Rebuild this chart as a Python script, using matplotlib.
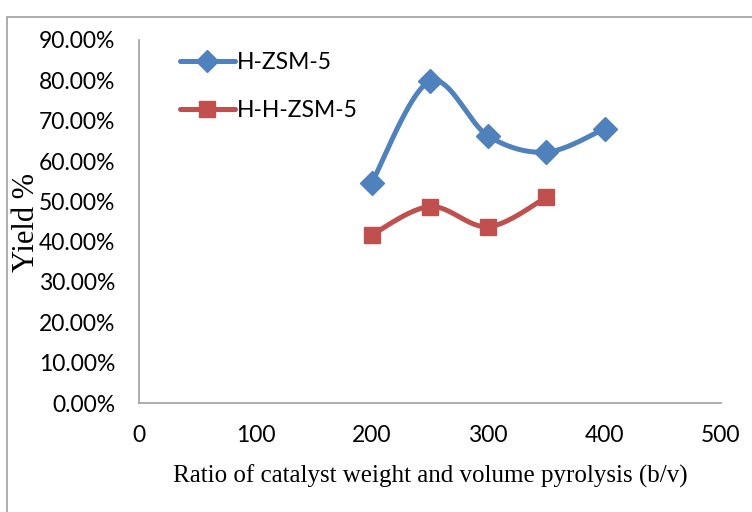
import numpy as np
import matplotlib
matplotlib.use("Agg")
import matplotlib.pyplot as plt
from matplotlib.patches import Rectangle
from matplotlib.ticker import FuncFormatter

# Data
x_hzsm = [200, 250, 300, 350, 400]
y_hzsm = [0.546, 0.798, 0.662, 0.622, 0.680]
x_hhzsm = [200, 250, 300, 350]
y_hhzsm = [0.417, 0.487, 0.437, 0.510]
labels = ["H-ZSM-5", "H-H-ZSM-5"]
colors = ["#4F81BD", "#C0504D"]
markers = ["D", "s"]
x_ticks = [0, 100, 200, 300, 400, 500]
y_ticks = [0.0, 0.1, 0.2, 0.3, 0.4, 0.5, 0.6, 0.7, 0.8, 0.9]


def smooth(xs, ys, n=40):
    # Catmull-Rom style smoothing (like Excel smoothed lines)
    xs = np.asarray(xs, float)
    ys = np.asarray(ys, float)
    px = np.concatenate([[xs[0]], xs, [xs[-1]]])
    py = np.concatenate([[ys[0]], ys, [ys[-1]]])
    ox, oy = [], []
    t = np.linspace(0, 1, n)
    for i in range(1, len(px) - 2):
        p0x, p1x, p2x, p3x = px[i - 1], px[i], px[i + 1], px[i + 2]
        p0y, p1y, p2y, p3y = py[i - 1], py[i], py[i + 1], py[i + 2]
        c1x = p1x + (p2x - p0x) / 6
        c1y = p1y + (p2y - p0y) / 6
        c2x = p2x - (p3x - p1x) / 6
        c2y = p2y - (p3y - p1y) / 6
        bx = (1 - t) ** 3 * p1x + 3 * (1 - t) ** 2 * t * c1x + 3 * (1 - t) * t ** 2 * c2x + t ** 3 * p2x
        by = (1 - t) ** 3 * p1y + 3 * (1 - t) ** 2 * t * c1y + 3 * (1 - t) * t ** 2 * c2y + t ** 3 * p2y
        ox.extend(bx)
        oy.extend(by)
    return np.array(ox), np.array(oy)


fig = plt.figure(figsize=(7.52, 5.12), dpi=100)
fig.patch.set_facecolor("white")
fig.add_artist(Rectangle((7 / 752, -0.1), 1.2, 1.1 - 17 / 512,
                         transform=fig.transFigure, fill=False,
                         edgecolor="#A0A0A0", linewidth=1.2))

ax = fig.add_axes([139 / 752, 109 / 512, 582 / 752, 363 / 512])
ax.set_xlim(0, 500)
ax.set_ylim(0, 0.9)

msize = {"D": 12.5, "s": 12}
for xs, ys, lab, c, m in zip([x_hzsm, x_hhzsm], [y_hzsm, y_hhzsm], labels, colors, markers):
    sx, sy = smooth(xs, ys)
    ax.plot(sx, sy, color=c, linewidth=3.6, solid_capstyle="round", zorder=2)
    ax.plot(xs, ys, linestyle="none", marker=m, color=c,
            markersize=msize[m], zorder=3)
    ax.plot([], [], color=c, linewidth=3.6, marker=m, solid_capstyle="round",
            markersize=msize[m] - 1, label=lab)

ax.set_xticks(x_ticks)
ax.set_yticks(y_ticks)
ax.yaxis.set_major_formatter(FuncFormatter(lambda v, p: f"{v * 100:.2f}%"))
ax.tick_params(axis="both", length=0, labelsize=16.5)
ax.tick_params(axis="x", pad=16)
ax.tick_params(axis="y", pad=17)
for lbl in ax.get_xticklabels() + ax.get_yticklabels():
    lbl.set_fontfamily("Lato")

for s in ["top", "right"]:
    ax.spines[s].set_visible(False)
for s in ["left", "bottom"]:
    ax.spines[s].set_color("#A0A0A0")
    ax.spines[s].set_linewidth(1.2)

ax.set_xlabel("Ratio of catalyst weight and volume pyrolysis (b/v)",
              fontfamily="Liberation Serif", fontsize=18, labelpad=13)
fig.text(27 / 752, 1 - 222 / 512, "Yield %", rotation=90, ha="center", va="center",
         fontfamily="Liberation Serif", fontsize=22)

leg = ax.legend(loc="upper left", bbox_to_anchor=(0.035, 1.025), frameon=False,
                prop={"family": "Lato", "size": 16.5}, handlelength=2.4,
                labelspacing=1.2, handletextpad=0.1)

fig.savefig("out.png", dpi=100)
